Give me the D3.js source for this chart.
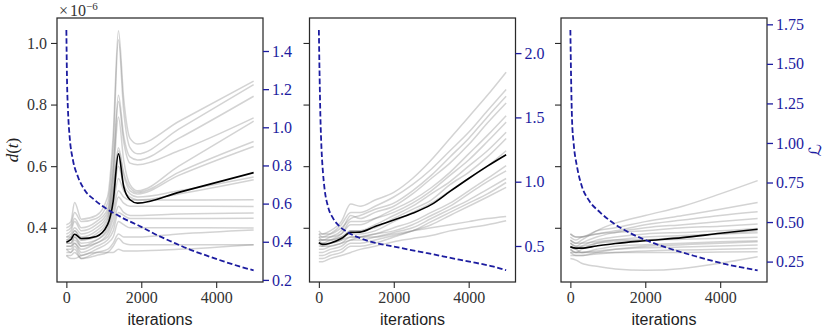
<!DOCTYPE html>
<html><head><meta charset="utf-8">
<script src="https://cdn.jsdelivr.net/npm/d3@7"></script>
<style>body{margin:0;background:#fff} svg{display:block}</style>
</head><body><svg id="c" width="830" height="332"></svg>
<script>
// ---------- data ----------
const xTicks = [0, 2000, 4000];
const leftTicks = [0.4, 0.6, 0.8, 1.0];

// panel 1
const iters1 = [0, 120, 220, 400, 800, 1100, 1250, 1390, 1530, 1700, 1900, 3000, 5000];
const mean1 = [0.353, 0.362, 0.379, 0.365, 0.372, 0.410, 0.486, 0.640, 0.534, 0.491, 0.480, 0.515, 0.579];
const runs1 = [
  [0.41, 0.42, 0.482, 0.428, 0.44, 0.50, 0.70, 1.04, 0.82, 0.69, 0.672, 0.745, 0.876],
  [0.40, 0.41, 0.45, 0.42, 0.43, 0.48, 0.66, 1.01, 0.78, 0.66, 0.640, 0.72, 0.865],
  [0.39, 0.40, 0.43, 0.40, 0.42, 0.46, 0.60, 0.83, 0.70, 0.63, 0.620, 0.69, 0.827],
  [0.38, 0.39, 0.42, 0.39, 0.41, 0.45, 0.58, 0.81, 0.68, 0.61, 0.605, 0.65, 0.757],
  [0.37, 0.38, 0.40, 0.38, 0.40, 0.44, 0.56, 0.76, 0.62, 0.54, 0.520, 0.60, 0.746],
  [0.37, 0.37, 0.39, 0.37, 0.39, 0.43, 0.53, 0.66, 0.58, 0.53, 0.515, 0.58, 0.680],
  [0.36, 0.37, 0.39, 0.36, 0.38, 0.42, 0.52, 0.65, 0.57, 0.52, 0.510, 0.57, 0.664],
  [0.36, 0.36, 0.38, 0.36, 0.37, 0.41, 0.50, 0.60, 0.54, 0.51, 0.500, 0.52, 0.565],
  [0.35, 0.35, 0.37, 0.35, 0.36, 0.40, 0.47, 0.56, 0.52, 0.50, 0.490, 0.51, 0.556],
  [0.35, 0.35, 0.37, 0.34, 0.36, 0.39, 0.45, 0.52, 0.50, 0.49, 0.490, 0.49, 0.491],
  [0.34, 0.34, 0.36, 0.34, 0.35, 0.38, 0.43, 0.50, 0.48, 0.47, 0.470, 0.47, 0.469],
  [0.34, 0.34, 0.35, 0.33, 0.35, 0.37, 0.41, 0.47, 0.45, 0.44, 0.440, 0.445, 0.448],
  [0.33, 0.33, 0.35, 0.32, 0.34, 0.36, 0.39, 0.45, 0.44, 0.43, 0.430, 0.43, 0.431],
  [0.32, 0.32, 0.34, 0.31, 0.33, 0.35, 0.37, 0.42, 0.41, 0.40, 0.400, 0.40, 0.399],
  [0.33, 0.32, 0.33, 0.30, 0.32, 0.33, 0.35, 0.38, 0.37, 0.37, 0.370, 0.38, 0.393],
  [0.31, 0.31, 0.32, 0.30, 0.31, 0.32, 0.34, 0.366, 0.35, 0.345, 0.345, 0.345, 0.345],
  [0.31, 0.30, 0.30, 0.31, 0.32, 0.32, 0.32, 0.33, 0.325, 0.325, 0.325, 0.33, 0.345]
];
const lossIters1 = [0, 16, 43, 88, 176, 309, 488, 755, 1070, 1500, 2000, 2400, 2850, 3300, 3750, 4200, 4600, 5000];
const loss1 = [1.51, 1.264, 1.09, 0.95, 0.828, 0.741, 0.671, 0.619, 0.573, 0.525, 0.478, 0.437, 0.397, 0.359, 0.327, 0.297, 0.272, 0.25];
const lossTicks1 = [0.2, 0.4, 0.6, 0.8, 1.0, 1.2, 1.4];

// panel 2
const iters2 = [0, 100, 300, 600, 850, 1100, 1500, 2000, 2500, 3000, 3500, 4000, 4500, 5000];
const mean2 = [0.352, 0.346, 0.350, 0.365, 0.385, 0.386, 0.404, 0.425, 0.447, 0.475, 0.518, 0.560, 0.600, 0.637];
const runs2 = [
  [0.38, 0.38, 0.39, 0.42, 0.477, 0.47, 0.49, 0.515, 0.56, 0.62, 0.69, 0.76, 0.83, 0.905],
  [0.37, 0.37, 0.38, 0.41, 0.45, 0.45, 0.47, 0.50, 0.54, 0.59, 0.65, 0.71, 0.78, 0.849],
  [0.39, 0.38, 0.38, 0.40, 0.43, 0.44, 0.46, 0.48, 0.52, 0.57, 0.63, 0.69, 0.76, 0.827],
  [0.36, 0.36, 0.37, 0.39, 0.44, 0.43, 0.45, 0.47, 0.51, 0.56, 0.61, 0.67, 0.74, 0.805],
  [0.38, 0.37, 0.37, 0.38, 0.41, 0.41, 0.43, 0.46, 0.49, 0.53, 0.58, 0.64, 0.70, 0.764],
  [0.35, 0.35, 0.36, 0.38, 0.42, 0.42, 0.43, 0.45, 0.48, 0.52, 0.57, 0.62, 0.68, 0.743],
  [0.37, 0.36, 0.36, 0.37, 0.39, 0.39, 0.41, 0.44, 0.47, 0.51, 0.55, 0.60, 0.65, 0.71],
  [0.34, 0.34, 0.35, 0.36, 0.39, 0.39, 0.40, 0.43, 0.46, 0.49, 0.54, 0.58, 0.63, 0.69],
  [0.36, 0.36, 0.36, 0.37, 0.38, 0.38, 0.39, 0.42, 0.45, 0.48, 0.52, 0.56, 0.60, 0.65],
  [0.33, 0.33, 0.34, 0.35, 0.37, 0.37, 0.38, 0.40, 0.42, 0.45, 0.48, 0.52, 0.56, 0.602],
  [0.35, 0.34, 0.34, 0.35, 0.36, 0.37, 0.38, 0.39, 0.41, 0.44, 0.47, 0.51, 0.55, 0.585],
  [0.32, 0.32, 0.33, 0.34, 0.36, 0.36, 0.37, 0.385, 0.40, 0.43, 0.46, 0.49, 0.525, 0.56],
  [0.31, 0.31, 0.32, 0.33, 0.35, 0.35, 0.36, 0.375, 0.39, 0.42, 0.45, 0.48, 0.51, 0.547],
  [0.30, 0.30, 0.31, 0.32, 0.34, 0.34, 0.35, 0.37, 0.39, 0.41, 0.44, 0.47, 0.50, 0.531],
  [0.36, 0.35, 0.35, 0.36, 0.37, 0.37, 0.37, 0.38, 0.39, 0.40, 0.41, 0.42, 0.43, 0.437],
  [0.29, 0.29, 0.30, 0.31, 0.32, 0.33, 0.34, 0.355, 0.365, 0.375, 0.39, 0.40, 0.41, 0.423]
];
const lossIters2 = [0, 15, 40, 70, 110, 150, 240, 370, 550, 730, 1090, 1530, 1970, 2420, 2860, 3310, 3750, 4200, 4640, 5000];
const loss2 = [2.18, 1.90, 1.52, 1.26, 1.07, 0.95, 0.81, 0.72, 0.653, 0.614, 0.562, 0.523, 0.497, 0.471, 0.446, 0.42, 0.394, 0.368, 0.342, 0.312];
const lossTicks2 = [0.5, 1.0, 1.5, 2.0];

// panel 3
const iters3 = [0, 150, 300, 700, 1200, 2000, 3000, 4000, 5000];
const mean3 = [0.338, 0.334, 0.334, 0.341, 0.349, 0.358, 0.368, 0.382, 0.395];
const runs3 = [
  [0.36, 0.35, 0.36, 0.39, 0.415, 0.44, 0.47, 0.51, 0.553],
  [0.38, 0.37, 0.37, 0.39, 0.40, 0.42, 0.44, 0.46, 0.482],
  [0.37, 0.36, 0.37, 0.38, 0.39, 0.41, 0.425, 0.44, 0.452],
  [0.35, 0.34, 0.35, 0.37, 0.385, 0.40, 0.41, 0.42, 0.43],
  [0.38, 0.37, 0.37, 0.38, 0.385, 0.39, 0.40, 0.405, 0.412],
  [0.34, 0.33, 0.34, 0.36, 0.37, 0.38, 0.385, 0.39, 0.398],
  [0.33, 0.32, 0.33, 0.35, 0.36, 0.37, 0.375, 0.38, 0.384],
  [0.36, 0.35, 0.35, 0.355, 0.36, 0.36, 0.363, 0.366, 0.369],
  [0.32, 0.32, 0.32, 0.33, 0.34, 0.345, 0.35, 0.355, 0.358],
  [0.33, 0.32, 0.32, 0.325, 0.33, 0.335, 0.338, 0.341, 0.344],
  [0.31, 0.31, 0.31, 0.315, 0.32, 0.325, 0.328, 0.33, 0.333],
  [0.34, 0.33, 0.32, 0.32, 0.32, 0.32, 0.32, 0.321, 0.322],
  [0.30, 0.295, 0.285, 0.275, 0.266, 0.262, 0.268, 0.285, 0.306],
  [0.35, 0.34, 0.34, 0.35, 0.355, 0.36, 0.37, 0.38, 0.39],
  [0.32, 0.31, 0.31, 0.32, 0.33, 0.34, 0.345, 0.35, 0.355]
];
const lossIters3 = [0, 19, 45, 88, 179, 312, 488, 800, 1200, 1600, 2000, 2400, 3290, 4180, 5000];
const loss3 = [1.714, 1.418, 1.144, 0.997, 0.849, 0.722, 0.64, 0.56, 0.485, 0.43, 0.387, 0.352, 0.287, 0.232, 0.195];
const lossTicks3 = [0.25, 0.50, 0.75, 1.00, 1.25, 1.50, 1.75];

// ---------- drawing ----------
const svg = d3.select('#c');
const BLUE = '#1c1ca0', FRAME = '#2a2a2a';
const yTop = 18, yBot = 282, pw = 206;
const serif = "'Liberation Serif','DejaVu Serif',serif";
const sans = "'Liberation Sans','DejaVu Sans',sans-serif";

const yL = d3.scaleLinear().domain([0.224, 1.081]).range([yBot, yTop]);

const panels = [
  {left: 57, iters: iters1, runs: runs1, mean: mean1, li: lossIters1, loss: loss1, rd: [0.189, 1.573], rt: lossTicks1, fmt: '.1f', lbl: true},
  {left: 309.5, iters: iters2, runs: runs2, mean: mean2, li: lossIters2, loss: loss2, rd: [0.22, 2.273], rt: lossTicks2, fmt: '.1f', lbl: false},
  {left: 561, iters: iters3, runs: runs3, mean: mean3, li: lossIters3, loss: loss3, rd: [0.121, 1.79], rt: lossTicks3, fmt: '.2f', lbl: false}
];

panels.forEach((p, i) => {
  const x = d3.scaleLinear().domain([-250, 5250]).range([p.left, p.left + pw]);
  const yR = d3.scaleLinear().domain(p.rd).range([yBot, yTop]);
  const cid = 'clip' + i;
  svg.append('clipPath').attr('id', cid).append('rect')
    .attr('x', p.left).attr('y', yTop).attr('width', pw).attr('height', yBot - yTop);
  const g = svg.append('g').attr('clip-path', `url(#${cid})`);
  const line = d3.line().x(d => x(d[0])).y(d => yL(d[1])).curve(d3.curveMonotoneX);
  p.runs.forEach(r => {
    g.append('path').attr('d', line(p.iters.map((t, k) => [t, r[k]])))
      .attr('fill', 'none').attr('stroke', 'gray').attr('stroke-opacity', 0.35).attr('stroke-width', 1.5);
  });
  g.append('path').attr('d', line(p.iters.map((t, k) => [t, p.mean[k]])))
    .attr('fill', 'none').attr('stroke', '#000').attr('stroke-width', 1.6);
  const lline = d3.line().x(d => x(d[0])).y(d => yR(d[1])).curve(d3.curveMonotoneX);
  g.append('path').attr('d', lline(p.li.map((t, k) => [t, p.loss[k]])))
    .attr('fill', 'none').attr('stroke', BLUE).attr('stroke-width', 1.8).attr('stroke-dasharray', '5.5,2.6');

  // frame
  svg.append('rect').attr('x', p.left).attr('y', yTop).attr('width', pw).attr('height', yBot - yTop)
    .attr('fill', 'none').attr('stroke', FRAME).attr('stroke-width', 1.25);

  // x axis
  const xa = svg.append('g').attr('transform', `translate(0,${yBot})`)
    .call(d3.axisBottom(x).tickValues(xTicks).tickSize(6).tickPadding(4).tickFormat(d3.format('d')));
  xa.select('.domain').remove();
  xa.selectAll('line').attr('stroke', FRAME).attr('stroke-width', 1.1);
  xa.selectAll('text').style('font-family', serif).style('font-size', '16px').attr('fill', '#333');

  // left axis
  const la = svg.append('g').attr('transform', `translate(${p.left},0)`)
    .call(d3.axisLeft(yL).tickValues(leftTicks).tickSize(6).tickPadding(4)
      .tickFormat(p.lbl ? d3.format('.1f') : () => ''));
  la.select('.domain').remove();
  la.selectAll('line').attr('stroke', FRAME).attr('stroke-width', 1.1);
  la.selectAll('text').style('font-family', serif).style('font-size', '16px').attr('fill', '#333');

  // right axis
  const ra = svg.append('g').attr('transform', `translate(${p.left + pw},0)`)
    .call(d3.axisRight(yR).tickValues(p.rt).tickSize(6).tickPadding(3).tickFormat(d3.format(p.fmt)));
  ra.select('.domain').remove();
  ra.selectAll('line').attr('stroke', BLUE).attr('stroke-width', 1.3);
  ra.selectAll('text').style('font-family', serif).style('font-size', '16px').attr('fill', BLUE);

  // x label
  svg.append('text').attr('x', p.left + pw / 2).attr('y', 325).attr('text-anchor', 'middle')
    .style('font-family', sans).style('font-size', '16px').attr('fill', '#222').text('iterations');
});

// left y label d(t)
const dl = svg.append('text').attr('transform', 'translate(18,150) rotate(-90)')
  .attr('text-anchor', 'middle').style('font-family', serif).style('font-size', '17px').attr('fill', '#222');
dl.append('tspan').style('font-style', 'italic').text('d');
dl.append('tspan').text('(');
dl.append('tspan').style('font-style', 'italic').text('t');
dl.append('tspan').text(')');

// right y label
svg.append('text').attr('transform', 'translate(821,150) rotate(-90)')
  .attr('text-anchor', 'middle').style('font-family', "'DejaVu Sans',sans-serif")
  .style('font-size', '17px').attr('fill', BLUE).text('ℒ');

// offset text
const ot = svg.append('text').attr('x', 59).attr('y', 16).style('font-family', serif)
  .style('font-size', '16px').attr('fill', '#333');
ot.append('tspan').text('×');
ot.append('tspan').attr('dx', 2).text('10');
ot.append('tspan').style('font-size', '11px').attr('dy', -6).text('−6');
</script>
</body></html>
